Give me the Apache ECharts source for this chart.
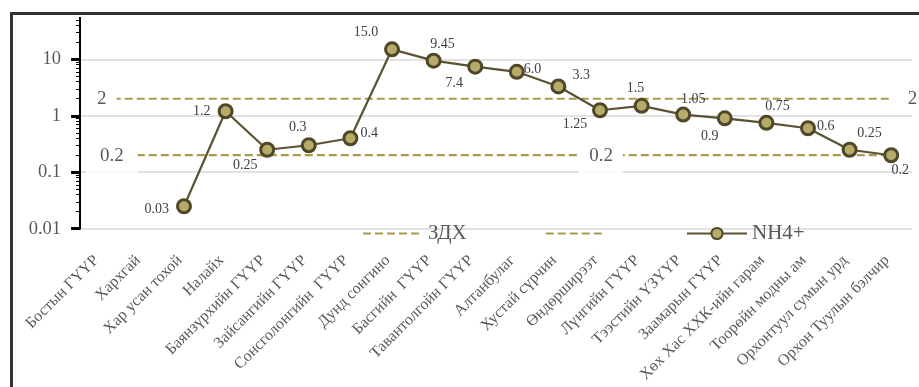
<!DOCTYPE html>
<html>
<head>
<meta charset="utf-8">
<script src="https://cdn.jsdelivr.net/npm/echarts@6/dist/echarts.min.js"></script>
<style>
html,body{margin:0;padding:0;background:#fff;}
#c{width:919px;height:387px;}
</style>
</head>
<body>
<div id="c"></div>
<script>
// ---- data ----
var categories = ['Бостын ГҮҮР','Хархгай','Хар усан тохой','Налайх','Баянзүрхийн ГҮҮР','Зайсангийн ГҮҮР','Сонсголонгийн  ГҮҮР','Дунд сонгино','Басгийн  ГҮҮР','Тавантолгойн ГҮҮР','Алтанбулаг','Хустай сүрчин','Өндөрширээт','Лүнгийн ГҮҮР','Тээстийн ҮЗҮҮР','Заамарын ГҮҮР','Хөх Хас ХХК-ийн гарам','Тоорөйн модны ам','Орхонтуул сумын урд','Орхон Туулын бэлчир'];
var nh4Values = [null, null, 0.025, 1.2, 0.25, 0.3, 0.4, 15.0, 9.45, 7.4, 6.0, 3.3, 1.25, 1.5, 1.05, 0.9, 0.75, 0.6, 0.25, 0.2];
var nh4Labels = ['', '', '0.03', '1.2', '0.25', '0.3', '0.4', '15.0', '9.45', '7.4', '6.0', '3.3', '1.25', '1.5', '1.05', '0.9', '0.75', '0.6', '0.25', '0.2'];
var zdxUpper = [2, 2, 2, 2, 2, 2, 2, 2, 2, 2, 2, 2, 2, 2, 2, 2, 2, 2, 2, 2];
var zdxLower = [0.2, 0.2, 0.2, 0.2, 0.2, 0.2, 0.2, 0.2, 0.2, 0.2, 0.2, 0.2, 0.2, 0.2, 0.2, 0.2, 0.2, 0.2, 0.2, 0.2];
var zdxUpperLabelIdx = [0, 19];
var zdxLowerLabelIdx = [0, 12];
var yTickLabels = ['0.01', '0.1', '1', '10'];
var seriesNames = ['ЗДХ', ' ', 'NH4+'];

// ---- label placement (style only) ----
var nh4LabelPos = [
  null, null,
  {p:'left', o:[-2,3]},
  {p:'left', o:[-2,0]},
  {p:'bottom', o:[-22,-4]},
  {p:'top', o:[-11,2]},
  {p:'right', o:[-3,-5]},
  {p:'top', o:[-26,3]},
  {p:'top', o:[9,4]},
  {p:'bottom', o:[-21,-3]},
  {p:'right', o:[-6,-2]},
  {p:'right', o:[1,-11]},
  {p:'bottom', o:[-25,-6]},
  {p:'top', o:[-6,3], bg:true},
  {p:'top', o:[10,5]},
  {p:'bottom', o:[-15,-2]},
  {p:'top', o:[11,4]},
  {p:'right', o:[-4,-2]},
  {p:'top', o:[20,4]},
  {p:'bottom', o:[9,-5]}
];

var FONT = '"Liberation Serif", "DejaVu Serif", serif';
var GOLD = '#ab9a4c';
var DARK = '#4f4727';

var nh4Data = nh4Values.map(function (v, i) {
  var cfg = nh4LabelPos[i];
  if (v === null) return {value: null};
  var lab = {show: true, position: cfg.p, offset: cfg.o, distance: 5,
    formatter: nh4Labels[i], fontFamily: FONT, fontSize: 14, color: '#404040'};
  if (cfg.bg) { lab.backgroundColor = '#fff'; lab.padding = [0, 4]; }
  return {value: v, label: lab};
});

function zdxData(values, labelIdx, labelCfgs) {
  return values.map(function (v, i) {
    var k = labelIdx.indexOf(i);
    if (k < 0) return {value: v, label: {show: false}};
    var c = labelCfgs[k];
    return {value: v, label: {show: true, position: c.p, offset: c.o, distance: c.d || 0,
      formatter: String(v), fontFamily: FONT, fontSize: 19, color: '#595959',
      backgroundColor: c.bg ? '#fff' : 'transparent', padding: c.pad || [0,0]}};
  });
}

var upperData = zdxData(zdxUpper, zdxUpperLabelIdx, [
  {p:'inside', o:[1,0], bg:true, pad:[4,10]},
  {p:'right', o:[0,0], d:14, bg:true, pad:[2,2]}
]);
var lowerData = zdxData(zdxLower, zdxLowerLabelIdx, [
  {p:'inside', o:[11,1], bg:true, pad:[7,14]},
  {p:'inside', o:[1,1], bg:true, pad:[7,10]}
]);

var legendText = {fontFamily: FONT, fontSize: 21, color: '#595959'};

var chart = echarts.init(document.getElementById('c'), null, {renderer: 'canvas'});
chart.setOption({
  animation: false,
  backgroundColor: '#fff',
  textStyle: {fontFamily: FONT},
  grid: {left: 80, right: 7, top: 2.8, bottom: 158.3, containLabel: false},
  legend: [
    {
      left: 357, top: 218, itemWidth: 60, itemHeight: 14, itemGap: 78,
      textStyle: legendText,
      data: [
        {name: seriesNames[0], itemStyle: {opacity: 0}},
        {name: seriesNames[1], itemStyle: {opacity: 0}}
      ]
    },
    {
      left: 681, top: 218, itemWidth: 60, itemHeight: 14,
      textStyle: legendText,
      data: [{name: seriesNames[2]}]
    }
  ],
  xAxis: {
    type: 'category', data: categories, boundaryGap: true,
    axisLine: {show: false}, axisTick: {show: false},
    axisLabel: {interval: 0, rotate: 45, margin: 25, padding: [0, 6, 0, 0],
      fontFamily: FONT, fontSize: 16, color: '#595959'}
  },
  yAxis: {
    type: 'log', logBase: 10, min: 0.01, max: 100,
    axisLine: {show: true, lineStyle: {color: '#000', width: 2}},
    axisTick: {show: true, inside: false, length: 9, lineStyle: {color: '#000', width: 3}},
    minorTick: {show: true, splitNumber: 9, length: 4, lineStyle: {color: '#000', width: 1}},
    splitLine: {show: true, lineStyle: {color: '#d9d9d9', width: 1.5}},
    axisLabel: {margin: 19, fontFamily: FONT, fontSize: 18.5, color: '#595959',
      formatter: function (v) {
        var s = String(+v.toPrecision(6));
        return yTickLabels.indexOf(s) >= 0 ? s : '';
      }}
  },
  series: [
    {
      name: seriesNames[0], type: 'line', data: upperData,
      symbol: 'circle', symbolSize: 1, showSymbol: true,
      itemStyle: {color: 'rgba(0,0,0,0)'},
      lineStyle: {color: GOLD, width: 2.2, type: [8, 4]},
      z: 2
    },
    {
      name: seriesNames[1], type: 'line', data: lowerData,
      symbol: 'circle', symbolSize: 1, showSymbol: true,
      itemStyle: {color: 'rgba(0,0,0,0)'},
      lineStyle: {color: GOLD, width: 2.2, type: [8, 4]},
      z: 2
    },
    {
      name: seriesNames[2], type: 'line', data: nh4Data,
      symbol: 'circle', symbolSize: 13, showSymbol: true, connectNulls: false,
      lineStyle: {color: '#5a5230', width: 2.2},
      itemStyle: {color: '#b7ab6a', borderColor: DARK, borderWidth: 3},
      z: 3
    }
  ],
  graphic: [
    {type: 'rect', z: 100, shape: {x: 0, y: 0, width: 919, height: 17}, style: {fill: '#fff'}},
    {type: 'rect', z: 101, shape: {x: 0, y: 0, width: 9, height: 387}, style: {fill: '#fff'}},
    {type: 'rect', z: 102, shape: {x: 11.5, y: 13.5, width: 1000, height: 500}, style: {fill: 'none', stroke: '#333', lineWidth: 3}}
  ]
});
</script>
</body>
</html>
